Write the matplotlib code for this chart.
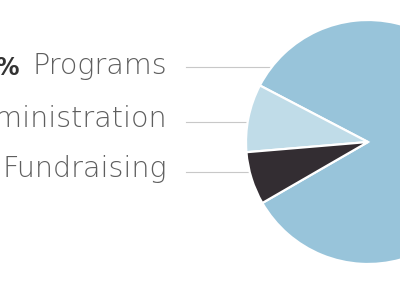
import numpy as np
import matplotlib
import matplotlib.pyplot as plt

matplotlib.use('agg')

categories = ['Programs', 'Administration', 'Fundraising']
percents = [84, 9, 7]
colors = ['#98c4da', '#c0dce8', '#332d32']

# label placement (data coords, pie radius = 1)
line_y = [0.615, 0.164, -0.246]
text_y = [0.557, 0.123, -0.287]

fig = plt.figure(figsize=[4, 2.84], dpi=100)
# pie centre at ~(368,142) px, radius ~122 px
ax = fig.add_axes([246/400, 20/284, 244/400, 244/284])
ax.pie(percents, colors=colors, startangle=210, radius=1,
       wedgeprops=dict(edgecolor='white', linewidth=1.6))
ax.set_xlim(-1, 1)
ax.set_ylim(-1, 1)
ax.set_aspect('auto')
ax.axis('off')

for cat, pct, ly, ty in zip(categories, percents, line_y, text_y):
    xe = -np.sqrt(1 - ly**2)
    ax.plot([-1.49, xe], [ly, ly], c='#c8c8c8', lw=0.8, clip_on=False, zorder=0)
    t = ax.text(-1.648, ty, cat, ha='right', va='baseline', fontsize=20.6,
                family='DejaVu Sans', fontweight=200, color='#5e5e5e', clip_on=False)
    ax.annotate(f"{pct}%", xy=(0, 0), xycoords=t, xytext=(-9, 0),
                textcoords='offset points', ha='right', va='bottom',
                fontsize=17, family='DejaVu Sans', fontweight='bold', color='#333333')

fig.savefig('out.png')
